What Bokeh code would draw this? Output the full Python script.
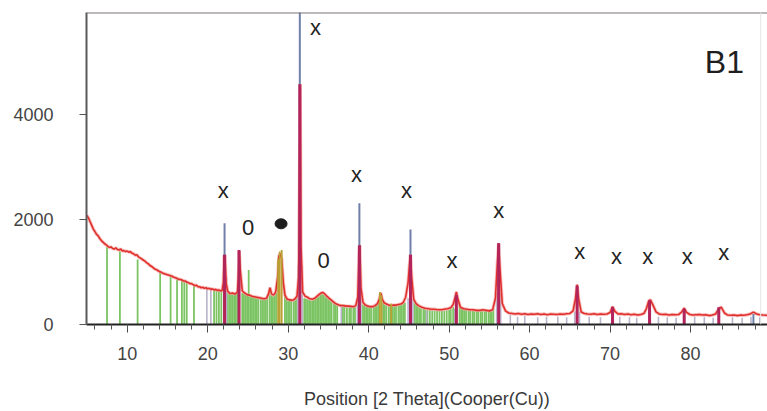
from bokeh.plotting import figure
from bokeh.models import Range1d, SingleIntervalTicker, Span
from bokeh.core.properties import value
from bokeh.embed import file_html
from bokeh.resources import INLINE

# ---------------- data ----------------
meas_x = [5.0, 5.2, 5.4, 5.6, 5.8, 6.0, 6.2, 6.4, 6.6, 6.8, 7.0, 7.2, 7.4, 7.6, 7.8,
          8.0, 8.2, 8.4, 8.6, 8.8, 9.0, 9.2, 9.4, 9.6, 9.8, 10.0, 10.2, 10.4, 10.6, 10.8,
          11.0, 11.2, 11.4, 11.6, 11.8, 12.0, 12.2, 12.4, 12.6, 12.8, 13.0, 13.2, 13.4,
          13.6, 13.8, 14.0, 14.2, 14.4, 14.6, 14.8, 15.0, 15.2, 15.4, 15.6, 15.8, 16.0,
          16.2, 16.4, 16.6, 16.8, 17.0, 17.2, 17.4, 17.6, 17.8, 18.0, 18.2, 18.4, 18.6,
          18.8, 19.0, 19.2, 19.4, 19.6, 19.8, 20.0, 20.2, 20.4, 20.6, 20.8, 21.0, 21.2,
          21.4, 21.6, 21.8, 21.95, 22.05, 22.15, 22.3, 22.5, 22.8, 23.1, 23.4, 23.7,
          23.82, 23.92, 24.05, 24.3, 24.6, 24.9, 25.2, 25.5, 25.8, 26.1, 26.4, 26.7,
          27.0, 27.3, 27.55, 27.75, 27.95, 28.2, 28.45, 28.7, 28.85, 29.0, 29.2, 29.4,
          29.6, 29.9, 30.2, 30.5, 30.8, 31.1, 31.3, 31.4, 31.5, 31.6, 31.8, 32.1, 32.4,
          32.7, 33.0, 33.3, 33.6, 33.9, 34.1, 34.3, 34.5, 34.8, 35.1, 35.4, 35.7, 36.0,
          36.3, 36.6, 36.9, 37.2, 37.5, 37.8, 38.1, 38.4, 38.65, 38.8, 38.9, 39.05, 39.3,
          39.6, 39.9, 40.2, 40.5, 40.8, 41.1, 41.3, 41.5, 41.7, 41.9, 42.2, 42.5, 42.8,
          43.1, 43.4, 43.7, 44.0, 44.3, 44.6, 44.9, 45.1, 45.2, 45.35, 45.6, 45.9, 46.2,
          46.6, 47.0, 47.4, 47.8, 48.2, 48.6, 49.0, 49.4, 49.8, 50.2, 50.5, 50.75, 50.9,
          51.1, 51.4, 51.8, 52.2, 52.6, 53.0, 53.4, 53.8, 54.2, 54.6, 55.0, 55.4, 55.75,
          56.0, 56.15, 56.3, 56.6, 57.0, 57.4, 57.8, 58.2, 58.6, 59.0, 59.4, 59.8, 60.2,
          60.6, 61.0, 61.4, 61.8, 62.2, 62.6, 63.0, 63.4, 63.8, 64.2, 64.6, 65.0, 65.4,
          65.7, 65.9, 66.1, 66.4, 66.8, 67.2, 67.6, 68.0, 68.4, 68.8, 69.2, 69.6, 70.0,
          70.3, 70.6, 71.0, 71.4, 71.8, 72.2, 72.6, 73.0, 73.4, 73.8, 74.2, 74.5, 74.8,
          75.0, 75.3, 75.7, 76.1, 76.5, 76.9, 77.3, 77.7, 78.1, 78.5, 78.9, 79.2, 79.5,
          79.9, 80.3, 80.7, 81.1, 81.5, 81.9, 82.3, 82.7, 83.1, 83.5, 83.8, 84.2, 84.6,
          85.0, 85.4, 85.8, 86.2, 86.6, 87.0, 87.4, 87.8, 88.2, 88.6, 89.0, 89.5]
meas_y = [2080, 2030, 1960, 1890, 1820, 1770, 1720, 1690, 1640, 1600, 1570, 1540, 1520, 1490, 1470,
          1480, 1450, 1440, 1460, 1430, 1420, 1440, 1400, 1410, 1390, 1400, 1380, 1390, 1360, 1350,
          1320, 1330, 1290, 1270, 1250, 1230, 1210, 1180, 1160, 1130, 1110, 1090, 1060,
          1050, 1030, 1010, 1000, 980, 970, 960, 950, 940, 930, 920, 900, 890,
          880, 860, 860, 850, 830, 830, 810, 800, 780, 780, 760, 740, 750,
          720, 720, 700, 710, 690, 700, 680, 690, 670, 680, 660, 670, 650,
          660, 640, 650, 800, 1300, 1330, 780, 630, 590, 600, 580, 620,
          900, 1400, 1050, 640, 600, 570, 560, 540, 530, 520, 510, 500,
          490, 500, 580, 700, 580, 560, 620, 900, 1300, 1350, 1250, 800,
          560, 480, 470, 460, 480, 540, 900, 2600, 4580, 1500, 620, 540, 520,
          490, 480, 500, 540, 580, 600, 610, 590, 540, 500, 460, 420, 390,
          370, 360, 360, 350, 350, 345, 340, 360, 520, 1300, 1510, 700, 420,
          370, 350, 340, 340, 360, 400, 470, 600, 480, 420, 390, 370, 360,
          370, 370, 380, 390, 420, 520, 800, 1200, 1330, 900, 480, 400, 360,
          330, 310, 300, 290, 290, 280, 280, 290, 300, 320, 380, 520, 620,
          480, 330, 300, 290, 280, 280, 270, 270, 280, 270, 260, 280, 500,
          1200, 1550, 1100, 400, 260, 220, 210, 200, 210, 195, 205, 190, 200,
          195, 205, 190, 200, 185, 200, 195, 190, 200, 195, 205, 210, 260,
          500, 760, 480, 240, 210, 200, 195, 205, 190, 200, 195, 200, 230,
          340, 250, 200, 205, 190, 200, 185, 195, 180, 190, 210, 300, 450,
          470, 380, 240, 200, 190, 195, 180, 190, 185, 190, 240, 310, 230,
          190, 180, 185, 190, 180, 185, 170, 180, 200, 300, 330, 220, 180,
          175, 180, 170, 180, 175, 185, 200, 235, 200, 185, 180, 175]

green_x = [7.5, 9.1, 11.3, 14.1, 15.4, 16.2, 16.8, 17.1, 17.4, 18.3, 20.8, 21.1, 21.4, 21.7,
           22.5, 22.7, 22.9, 23.1, 23.3, 23.5, 23.7, 24.3, 24.5, 24.7, 24.9, 25.1, 25.3, 25.5,
           25.7, 25.9, 26.1, 26.3, 26.6, 26.8, 27.0, 27.2, 27.4, 27.7, 27.9, 28.1, 28.3, 28.5,
           29.6, 29.8, 30.0, 30.2, 30.4, 30.7, 30.9, 31.1, 32.0, 32.2, 32.4, 32.6, 32.8, 33.0,
           33.2, 33.4, 33.6, 33.8, 34.0, 34.2, 34.4, 34.6, 34.8, 35.0, 35.2, 35.4, 35.7, 35.9,
           36.1, 36.8, 37.0, 37.3, 37.6, 37.8, 38.1, 38.3, 39.3, 39.5, 39.7, 39.9, 40.1, 40.3,
           40.6, 40.8, 41.0, 41.2, 41.8, 42.0, 42.2, 42.5, 42.7, 43.0, 43.2, 43.4, 43.7, 43.9,
           44.1, 44.3, 44.5, 45.7, 45.9, 46.1, 46.3, 46.5, 46.8, 47.0, 47.3, 47.6, 47.9, 48.2,
           48.5, 48.8, 49.1, 49.4, 49.7, 50.0, 50.2, 50.5, 51.3, 51.5, 51.7, 51.9, 52.1, 52.4,
           52.6, 52.9, 53.1, 53.4, 53.6, 53.9, 54.1, 54.4, 54.6, 54.9, 55.1, 55.3, 55.5]
green_h = [1480, 1390, 1240, 1010, 930, 880, 850, 830, 810, 760, 670, 660, 650, 640,
           600, 590, 590, 580, 590, 580, 600, 600, 580, 570, 560, 1040, 540, 540,
           530, 520, 520, 510, 500, 490, 480, 480, 520, 690, 560, 540, 550, 600,
           560, 500, 460, 460, 450, 450, 470, 500, 500, 490, 480, 470, 460, 460,
           470, 490, 520, 540, 570, 580, 570, 540, 510, 490, 460, 430, 400, 380,
           360, 340, 340, 330, 330, 330, 330, 340, 380, 360, 350, 340, 340, 330,
           340, 360, 400, 450, 420, 380, 360, 350, 350, 350, 360, 360, 370, 370,
           380, 390, 420, 420, 380, 350, 330, 310, 300, 290, 280, 280, 270, 270,
           260, 260, 260, 260, 270, 280, 300, 340, 400, 330, 300, 280, 280, 270,
           270, 270, 260, 260, 270, 260, 260, 260, 260, 250, 260, 280, 300]

gray_x = [19.9, 20.4, 22.35, 31.2, 31.75, 36.6, 38.6, 39.05, 44.9, 45.5, 47.2, 50.7,
          55.9, 56.4, 57.6, 58.5, 59.4, 61.0, 62.1, 63.5, 64.6, 65.6, 66.2, 67.4, 68.8,
          71.2, 72.4, 73.3, 76.0, 77.1, 78.2, 80.5, 81.7, 82.8, 85.2, 86.4, 87.5, 88.6]
gray_h = [720, 700, 900, 1130, 1130, 340, 500, 500, 500, 480, 260, 300,
          600, 600, 180, 150, 160, 140, 150, 150, 140, 250, 250, 150, 140,
          150, 140, 130, 150, 140, 130, 150, 140, 130, 140, 130, 150, 140]

olive_x = [28.75, 28.95, 29.2, 41.4, 41.6, 42.8]
olive_h = [1250, 1390, 1420, 620, 560, 400]

blue_x = [22.1, 31.45, 38.85, 45.2, 50.85, 56.15, 65.9, 70.3, 74.9, 79.2, 83.5, 87.8]
blue_h = [1930, 6200, 2310, 1810, 560, 900, 500, 280, 350, 260, 280, 200]

crimson_x = [22.1, 23.9, 31.45, 38.85, 45.2, 50.9, 56.15, 65.9, 70.3, 74.9, 79.2, 83.5]
crimson_h = [1330, 1420, 4580, 1510, 1330, 560, 1550, 740, 330, 460, 300, 330]

ann_text = ["x", "x", "0", "0", "x", "x", "x", "x", "x", "x", "x", "x", "x"]
ann_x = [33.39, 21.93, 25.03, 34.42, 38.48, 44.69, 50.37, 56.16, 66.22, 70.78, 74.67, 79.57, 84.11]
ann_y = [5665, 2561, 1848, 1230, 2865, 2547, 1230, 2167, 1388, 1306, 1306, 1306, 1369]
dot_x = [29.12]
dot_y = [1920]
sample_label = ["B1"]
sample_x = [84.2]
sample_y = [5003]

X_MIN, X_MAX = 4.95, 89.55
Y_MIN, Y_MAX = 0, 5950

FONT = "Liberation Sans"

p = figure(width=767, height=411, output_backend="svg", toolbar_location=None,
           x_range=Range1d(X_MIN, X_MAX), y_range=Range1d(Y_MIN, Y_MAX),
           min_border_left=86, min_border_right=0, min_border_top=12, min_border_bottom=86)
p.grid.visible = False
p.outline_line_color = None
p.background_fill_color = "white"
p.border_fill_color = "white"

# x axis
xa = p.xaxis[0]
xa.ticker = SingleIntervalTicker(interval=10, num_minor_ticks=5)
xa.axis_label = "Position [2 Theta](Cooper(Cu))"
xa.axis_label_text_font = FONT
xa.axis_label_text_font_size = "18px"
xa.axis_label_text_font_style = "normal"
xa.axis_label_text_color = "#3a3a3a"
xa.axis_label_standoff = 26
xa.major_label_text_font = FONT
xa.major_label_text_font_size = "18px"
xa.major_label_text_color = "#444444"
xa.major_label_standoff = 14
xa.axis_line_color = "#222222"
xa.axis_line_width = 2
xa.major_tick_line_color = "#444444"
xa.minor_tick_line_color = "#555555"
xa.major_tick_in = 0
xa.major_tick_out = 8
xa.minor_tick_in = 0
xa.minor_tick_out = 5

# y axis
ya = p.yaxis[0]
ya.ticker = SingleIntervalTicker(interval=2000, num_minor_ticks=0)
ya.major_label_text_font = FONT
ya.major_label_text_font_size = "18px"
ya.major_label_text_color = "#444444"
ya.major_label_standoff = 26
ya.axis_line_color = "#5a5a5a"
ya.axis_line_width = 2
ya.major_tick_line_color = "#555555"
ya.major_tick_in = 0
ya.major_tick_out = 7
ya.minor_tick_line_color = None

# top frame border and faint right edge
p.add_layout(Span(location=Y_MAX, dimension="width", line_color="#7d737a", line_width=2))
p.add_layout(Span(location=88.7, dimension="height", line_color="#e6e6e6", line_width=1))

zeros = lambda a: [0] * len(a)

# stick patterns
p.segment(x0=green_x, y0=zeros(green_x), x1=green_x, y1=green_h,
          line_color="#7cc463", line_width=1.8)
p.segment(x0=gray_x, y0=zeros(gray_x), x1=gray_x, y1=gray_h,
          line_color="#b9b3cc", line_width=1.6)

# measured pattern
p.line(meas_x, meas_y, line_color="#f4a4a4", line_width=3.4, line_alpha=0.7)
p.line(meas_x, meas_y, line_color="#e0302c", line_width=1.6)

p.segment(x0=olive_x, y0=zeros(olive_x), x1=olive_x, y1=olive_h,
          line_color="#b9a133", line_width=1.8)
p.segment(x0=blue_x, y0=zeros(blue_x), x1=blue_x, y1=blue_h,
          line_color="#6f80a8", line_width=2)
p.segment(x0=crimson_x, y0=zeros(crimson_x), x1=crimson_x, y1=crimson_h,
          line_color="#b2245a", line_width=3)

# annotations
p.text(x=ann_x, y=ann_y, text=ann_text, text_font=value(FONT), text_font_size="22px",
       text_color="#222222", text_align="center", text_baseline="middle")
p.ellipse(x=dot_x, y=dot_y, width=12, height=10, width_units="screen",
          height_units="screen", fill_color="#1e1e1e", line_color="#1e1e1e")
p.text(x=sample_x, y=sample_y, text=sample_label, text_font=value(FONT),
       text_font_size="32px", text_color="#1e1e1e", text_align="center",
       text_baseline="middle")

open("out.html", "w").write(file_html(p, INLINE))
